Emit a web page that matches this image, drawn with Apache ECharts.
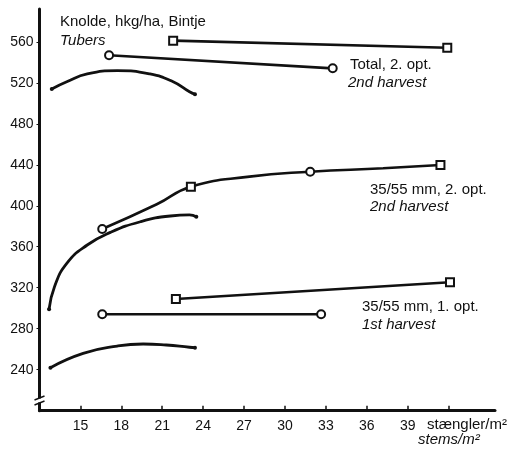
<!DOCTYPE html>
<html>
<head>
<meta charset="utf-8">
<script src="https://cdn.jsdelivr.net/npm/echarts@6/dist/echarts.min.js"></script>
<style>
  html, body { margin: 0; padding: 0; background: #fff; }
  #chart { width: 513px; height: 450px; }
</style>
</head>
<body>
<div id="chart"></div>
<script>
// Axis ticks
const xTicks = [15, 18, 21, 24, 27, 30, 33, 36, 39, 42];
const xLabels = [15, 18, 21, 24, 27, 30, 33, 36, 39];
const yTicks = [240, 280, 320, 360, 400, 440, 480, 520, 560];

// Total yield, 2nd harvest (stems/m2, hkg/ha)
const totalSquares = [[21.8, 561.1], [41.9, 554.2]];
const totalCircles = [[17.1, 546.8], [33.5, 534.1]];
const totalCurve = [[12.9, 514], [14.0, 521], [15.5, 528.6], [17.7, 531.8], [20.1, 528.6], [21.8, 521], [23.0, 511.3], [23.4, 508.8]];

// 35/55 mm, 2nd harvest
const mid2ndMarked = [[16.6, 377.3, 'c'], [20.6, 401.5], [23.1, 418.6, 's'], [27.4, 428.4], [31.85, 433.2, 'c'], [37.2, 436.6], [41.4, 439.8, 's']];
const mid2ndCurve = [[12.7, 299], [13.1, 321], [14.0, 343.8], [15.5, 361.7], [17.2, 374], [19.4, 384.4], [21.6, 390], [23.0, 391], [23.5, 389.3]];

// 35/55 mm, 1st harvest
const firstSquares = [[22.0, 309], [42.1, 325.3]];
const firstCircles = [[16.6, 294.1], [32.65, 294.1]];
const firstCurve = [[12.8, 242], [15.2, 256], [17.7, 263.1], [19.6, 265.1], [21.3, 264.1], [23.0, 261.9], [23.4, 261.5]];

const INK = '#111';
const FONT = 'Liberation Sans';

function straight(data, symbol) {
  return {
    type: 'line', data: data, symbol: symbol, symbolSize: 8,
    showSymbol: true, z: 3,
    lineStyle: { color: INK, width: 2.6 },
    itemStyle: { color: INK, borderWidth: 2 }
  };
}

function curve(data) {
  return {
    type: 'line', smooth: 0.5, z: 2,
    data: data.map((p, i) => ({
      value: p,
      symbol: (i === 0 || i === data.length - 1) ? 'circle' : 'none',
      symbolSize: 4
    })),
    showSymbol: true,
    lineStyle: { color: INK, width: 2.8 },
    itemStyle: { color: INK }
  };
}

function markedCurve(data) {
  return {
    type: 'line', smooth: 0.5, z: 3,
    data: data.map(p => ({
      value: [p[0], p[1]],
      symbol: p[2] === 'c' ? 'emptyCircle' : (p[2] === 's' ? 'emptyRect' : 'none'),
      symbolSize: 8
    })),
    showSymbol: true,
    lineStyle: { color: INK, width: 2.6 },
    itemStyle: { color: INK, borderWidth: 2 }
  };
}

const chart = echarts.init(document.getElementById('chart'), null, { renderer: 'canvas' });

const textStyle = { fontFamily: FONT, fontSize: 15, fill: INK };

chart.setOption({
  animation: false,
  backgroundColor: '#fff',
  grid: { left: 39.5, right: 18, top: 9, bottom: 39.3, containLabel: false },
  xAxis: {
    type: 'value', min: 12, max: 45.4,
    axisLine: { onZero: false, lineStyle: { color: INK, width: 3 } },
    axisTick: { show: true, inside: true, length: 5, customValues: xTicks, lineStyle: { color: INK, width: 1.5 } },
    axisLabel: { customValues: xLabels, color: INK, fontFamily: FONT, fontSize: 14, margin: 8 },
    splitLine: { show: false }
  },
  yAxis: {
    type: 'value', min: 200, max: 592,
    axisLine: { show: true, onZero: false, lineStyle: { color: INK, width: 3 } },
    axisTick: { show: true, length: 3, customValues: yTicks, lineStyle: { color: INK, width: 1 } },
    axisLabel: { customValues: yTicks, color: INK, fontFamily: FONT, fontSize: 14, margin: 6 },
    splitLine: { show: false }
  },
  series: [
    straight(totalSquares, 'emptyRect'),
    straight(totalCircles, 'emptyCircle'),
    curve(totalCurve),
    markedCurve(mid2ndMarked),
    curve(mid2ndCurve),
    straight(firstSquares, 'emptyRect'),
    straight(firstCircles, 'emptyCircle'),
    curve(firstCurve)
  ]
});

// Annotations and the axis break mark
const brk = chart.convertToPixel({ gridIndex: 0 }, [12, 210]);
chart.setOption({
  graphic: [
    { type: 'text', left: 60, top: 14, style: Object.assign({ text: 'Knolde, hkg/ha, Bintje' }, textStyle) },
    { type: 'text', left: 60, top: 33, style: Object.assign({ text: 'Tubers', fontStyle: 'italic' }, textStyle) },
    { type: 'text', left: 350, top: 57, style: Object.assign({ text: 'Total, 2. opt.' }, textStyle) },
    { type: 'text', left: 348, top: 75, style: Object.assign({ text: '2nd harvest', fontStyle: 'italic' }, textStyle) },
    { type: 'text', left: 370, top: 182, style: Object.assign({ text: '35/55 mm, 2. opt.' }, textStyle) },
    { type: 'text', left: 370, top: 199, style: Object.assign({ text: '2nd harvest', fontStyle: 'italic' }, textStyle) },
    { type: 'text', left: 362, top: 299, style: Object.assign({ text: '35/55 mm, 1. opt.' }, textStyle) },
    { type: 'text', left: 362, top: 317, style: Object.assign({ text: '1st harvest', fontStyle: 'italic' }, textStyle) },
    { type: 'text', left: 427, top: 417, style: Object.assign({ text: 'stængler/m²' }, textStyle) },
    { type: 'text', left: 418, top: 432, style: Object.assign({ text: 'stems/m²', fontStyle: 'italic' }, textStyle) },
    { type: 'rect', shape: { x: brk[0] - 4, y: brk[1] - 2, width: 8, height: 4 }, style: { fill: '#fff' }, z: 10 },
    { type: 'line', shape: { x1: brk[0] - 5, y1: brk[1] - 0.5, x2: brk[0] + 5, y2: brk[1] - 4.5 }, style: { stroke: INK, lineWidth: 1.5 }, z: 11 },
    { type: 'line', shape: { x1: brk[0] - 5, y1: brk[1] + 4.5, x2: brk[0] + 5, y2: brk[1] + 0.5 }, style: { stroke: INK, lineWidth: 1.5 }, z: 11 }
  ]
});
</script>
</body>
</html>
